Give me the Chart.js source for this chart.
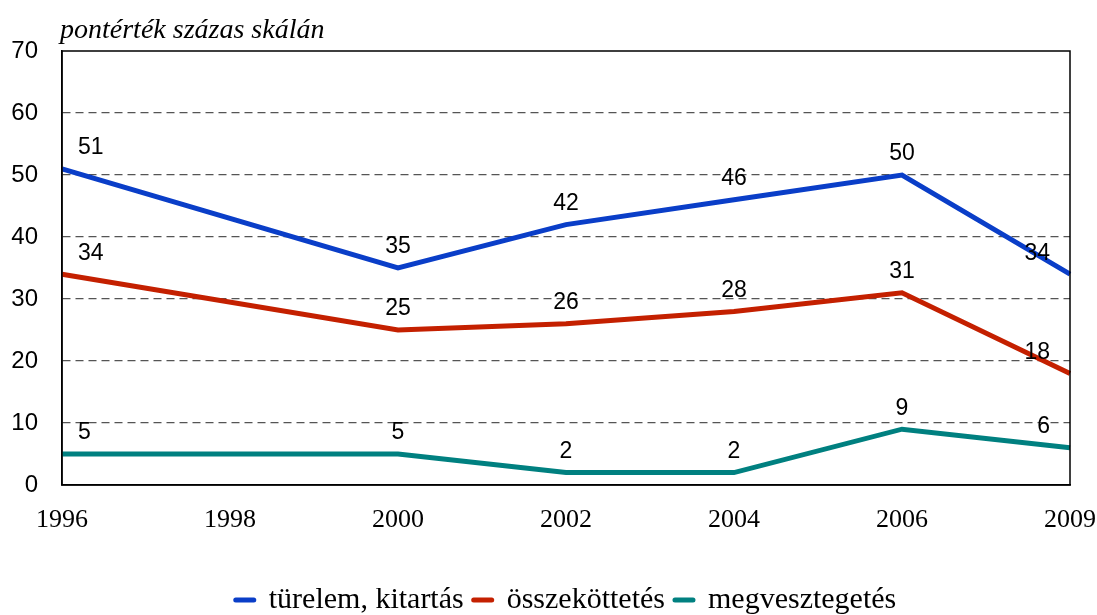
<!DOCTYPE html>
<html>
<head>
<meta charset="utf-8">
<script src="https://cdn.jsdelivr.net/npm/chart.js@4.4.1/dist/chart.umd.min.js"></script>
<style>
html,body{margin:0;padding:0;background:#fff;}
#wrap{width:1097px;height:615px;position:relative;}
</style>
</head>
<body>
<div id="wrap"><canvas id="c" width="1097" height="615"></canvas></div>
<script>
const years = ['1996', '1998', '2000', '2002', '2004', '2006', '2009'];
const turelem = [51, null, 35, 42, 46, 50, 34];
const osszekottetes = [34, null, 25, 26, 28, 31, 18];
const megvesztegetes = [5, null, 5, 2, 2, 9, 6];
const seriesNames = ['türelem, kitartás', 'összeköttetés', 'megvesztegetés'];
const yTicks = [0, 10, 20, 30, 40, 50, 60, 70];
const axisTitle = 'pontérték százas skálán';

const colors = ['#0A3EC8', '#C42000', '#008080'];

const frameAndLabels = {
  id: 'frameAndLabels',
  afterLayout(chart) {
    const lg = chart.legend;
    if (lg) {
      const shift = 600 - (lg.top + 10 + 15);
      lg.top += shift;
      lg.bottom += shift;
    }
  },
  afterDraw(chart) {
    const ctx = chart.ctx;
    const a = chart.chartArea;
    ctx.save();
    ctx.strokeStyle = '#000';
    ctx.lineWidth = 1.5;
    ctx.strokeRect(a.left, a.top, a.right - a.left, a.bottom - a.top);
    // title
    ctx.font = 'italic 28px "Liberation Serif", "Times New Roman", serif';
    ctx.fillStyle = '#000';
    ctx.textAlign = 'left';
    ctx.textBaseline = 'alphabetic';
    ctx.fillText(axisTitle, a.left - 2, a.top - 13);
    // data labels
    ctx.font = '23px "Liberation Sans", Arial, sans-serif';
    ctx.textBaseline = 'middle';
    chart.data.datasets.forEach((ds, di) => {
      const meta = chart.getDatasetMeta(di);
      const last = ds.data.length - 1;
      meta.data.forEach((pt, i) => {
        const v = ds.data[i];
        if (v === null || v === undefined) return;
        let x = pt.x;
        if (i === 0) { ctx.textAlign = 'left'; x += 16; }
        else if (i === last) { ctx.textAlign = 'right'; x -= 20; }
        else { ctx.textAlign = 'center'; }
        ctx.fillText(String(v), x, pt.y - 21);
      });
    });
    ctx.restore();
  }
};

new Chart(document.getElementById('c'), {
  type: 'line',
  data: {
    labels: years,
    datasets: [turelem, osszekottetes, megvesztegetes].map((d, i) => ({
      label: seriesNames[i],
      data: d,
      borderColor: colors[i],
      backgroundColor: colors[i],
      borderWidth: 5,
      pointRadius: 0,
      pointHoverRadius: 0,
      tension: 0,
      spanGaps: true,
      fill: false,
      borderCapStyle: 'butt',
      borderJoinStyle: 'miter'
    }))
  },
  options: {
    responsive: false,
    animation: false,
    events: [],
    layout: { padding: { top: 51, right: 0, left: 0, bottom: 0 } },
    scales: {
      x: {
        type: 'category',
        offset: false,
        grid: { display: false, drawTicks: false },
        border: { display: true, color: '#000', width: 1.5 },
        ticks: {
          color: '#000',
          padding: 20,
          maxRotation: 0,
          autoSkip: false,
          font: { family: '"Liberation Serif", "Times New Roman", serif', size: 26 }
        },
        afterFit(s) { s.height = 80; s.paddingRight = 27; s.paddingLeft = 0; }
      },
      y: {
        min: 0,
        max: 70,
        afterBuildTicks(s) { s.ticks = yTicks.map(v => ({ value: v })); },
        grid: {
          color: (c) => (c.tick && (c.tick.value === 0 || c.tick.value === 70)) ? 'rgba(0,0,0,0)' : '#555',
          lineWidth: 1.2,
          drawTicks: false
        },
        border: { display: true, color: '#000', width: 1.5, dash: [8, 5] },
        ticks: {
          color: '#000',
          padding: 24,
          font: { family: '"Liberation Sans", Arial, sans-serif', size: 24 }
        },
        afterFit(s) { s.width = 62; }
      }
    },
    plugins: {
      legend: {
        position: 'bottom',
        fullSize: false,
        labels: {
          color: '#000',
          font: { family: '"Liberation Serif", "Times New Roman", serif', size: 30 },
          usePointStyle: true,
          pointStyleWidth: 18,
          boxHeight: 10,
          padding: 10,
          generateLabels(chart) {
            return chart.data.datasets.map((ds, i) => ({
              text: ds.label,
              fillStyle: ds.borderColor,
              strokeStyle: ds.borderColor,
              lineWidth: 5,
              lineCap: 'round',
              pointStyle: 'line',
              datasetIndex: i,
              hidden: false,
              fontColor: '#000'
            }));
          }
        }
      },
      tooltip: { enabled: false }
    }
  },
  plugins: [frameAndLabels]
});
</script>
</body>
</html>
